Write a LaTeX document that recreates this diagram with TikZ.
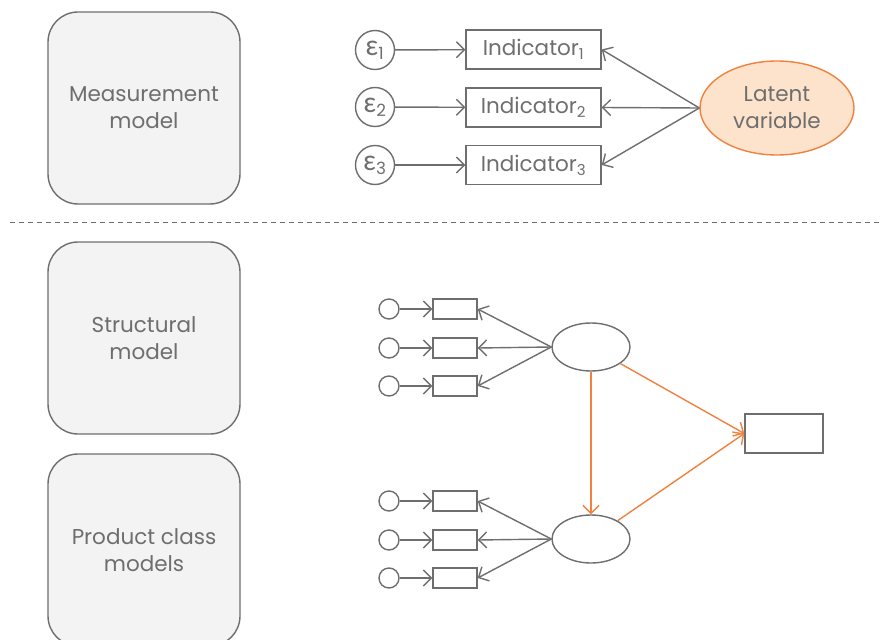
\documentclass[tikz,border=0pt]{standalone}
\usepackage{fontspec}
\setmainfont{Poppins}
\newfontfamily\greekfont{Lato}
\usetikzlibrary{arrows.meta,shapes.geometric}
\definecolor{linegray}{HTML}{6E6E6E}
\definecolor{textgray}{HTML}{6E6E6E}
\definecolor{boxfill}{HTML}{F3F3F3}
\definecolor{accent}{HTML}{F0813E}
\definecolor{latentfill}{HTML}{FDE3CB}
\newcommand{\eps}[1]{{\greekfont\fontsize{28}{28}\selectfont ε}{\fontsize{24}{24}\selectfont\textsubscript{#1}}}
\begin{document}
\begin{tikzpicture}[x=1pt,y=-1pt,
  panel/.style={draw=linegray, fill=boxfill, rounded corners=30pt, line width=1.4pt,
    minimum width=192pt, minimum height=192pt, inner sep=0pt, text=textgray,
    align=center, font=\fontsize{21.5}{27}\selectfont},
  indbox/.style={draw=linegray, line width=1.4pt, minimum width=135pt, minimum height=39pt,
    inner sep=0pt, text=textgray, font=\fontsize{21.5}{24}\selectfont},
  errcirc/.style={circle, draw=linegray, line width=1.4pt, minimum size=39pt, inner sep=0pt,
    text=textgray},
  latent/.style={ellipse, draw=accent, fill=latentfill, line width=1.4pt, minimum width=154pt,
    minimum height=94pt, inner sep=0pt, align=center, text=textgray,
    font=\fontsize{21.5}{27}\selectfont},
  smallbox/.style={draw=linegray, line width=1.4pt, minimum width=44pt, minimum height=20pt, inner sep=0pt},
  smallcirc/.style={circle, draw=linegray, line width=1.4pt, minimum size=20pt, inner sep=0pt},
  smallell/.style={ellipse, draw=linegray, line width=1.4pt, minimum width=78pt, minimum height=48pt, inner sep=0pt},
  outbox/.style={draw=linegray, line width=1.4pt, minimum width=78pt, minimum height=39pt, inner sep=0pt},
  arr/.style={draw=linegray, line width=1.4pt, -{Straight Barb[length=8pt,width=16pt]}},
  oarr/.style={draw=accent, line width=1.4pt, -{Straight Barb[length=8pt,width=16pt]}}
]
\useasboundingbox (0,0) rectangle (882,639);
\clip (0,0) rectangle (882,639);

% category panels on the left
\node[panel] (pmeas) at (144,108) {Measurement\\model};
\node[panel] (pstruct) at (144,338) {Structural\\model};
\node[panel] (pprod) at (144,550) {Product class\\models};

% separator
\draw[linegray, line width=1pt, dash pattern=on 5pt off 4pt] (10,222) -- (882,222);

% measurement model
\node[errcirc] (e1) at (375,50) {\eps{1}};
\node[errcirc] (e2) at (375,107) {\eps{2}};
\node[errcirc] (e3) at (375,165) {\eps{3}};
\node[indbox] (i1) at (533.5,49.5) {Indicator\textsubscript{1}};
\node[indbox] (i2) at (533.5,107.5) {Indicator\textsubscript{2}};
\node[indbox] (i3) at (533.5,165) {Indicator\textsubscript{3}};
\node[latent] (lv) at (777,108) {Latent\\variable};
\foreach \k in {1,2,3} {
  \draw[arr] (e\k) -- (i\k);
  \draw[arr] (lv.west) -- (i\k.east);
}

% structural model: upper latent block
\foreach \k/\y in {1/309,2/348,3/386} {
  \node[smallcirc] (a\k) at (389,\y) {};
  \node[smallbox] (ab\k) at (455,\y) {};
  \draw[arr] (a\k) -- (ab\k);
}
\node[smallell] (la) at (591,347) {};
\foreach \k in {1,2,3} \draw[arr] (la.west) -- (ab\k.east);

% structural model: lower latent block
\foreach \k/\y in {1/501,2/540,3/578} {
  \node[smallcirc] (b\k) at (389,\y) {};
  \node[smallbox] (bb\k) at (455,\y) {};
  \draw[arr] (b\k) -- (bb\k);
}
\node[smallell] (lb) at (591,539) {};
\foreach \k in {1,2,3} \draw[arr] (lb.west) -- (bb\k.east);

% outcome and structural paths
\node[outbox] (out) at (784,433.5) {};
\draw[oarr] (la.south) -- (lb.north);
\draw[oarr] (la) -- (out.west);
\draw[oarr] (lb) -- (out.west);
\end{tikzpicture}
\end{document}
